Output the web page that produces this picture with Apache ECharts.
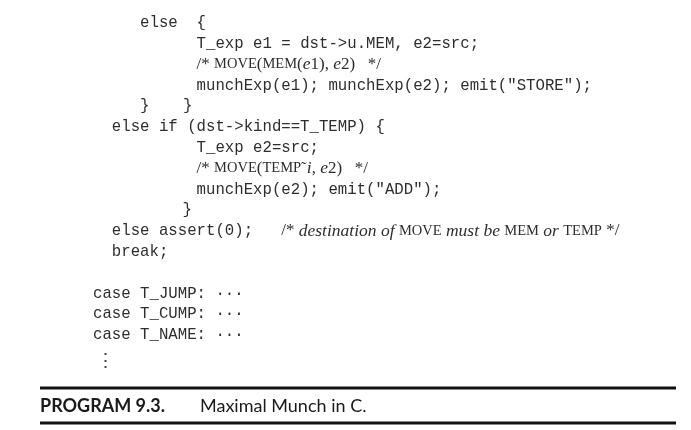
<!DOCTYPE html>
<html lang="en">
<head>
<meta charset="UTF-8">
<title>Program 9.3</title>
<script src="https://cdn.jsdelivr.net/npm/echarts@6/dist/echarts.min.js"></script>
</head>
<body style="margin:0;background:#fff">
<div id="container" style="width:691px;height:430px"></div>
<script type="text/javascript">
    // listing lines (rich text markup: c = code, cm = comment, ci = italic, sc = small caps, r = roman)
    var codeLines = [
        '{c|else  \\{}',
        '{c|T_exp e1 = dst->u.MEM, e2=src;}',
        '{cm|/* }{sc|MOVE}{r|(}{sc|MEM}{r|(}{ci|e}{r|1), }{ci|e}{r|2)   */}',
        '{c|munchExp(e1); munchExp(e2); emit("STORE");}',
        'BRACE2',
        '{c|else if (dst->kind==T_TEMP) \\{}',
        '{c|T_exp e2=src;}',
        '{cm|/* }{sc|MOVE}{r|(}{sc|TEMP}{r|˜}{ci|i}{r|, }{ci|e}{r|2)   */}',
        '{c|munchExp(e2); emit("ADD");}',
        'BRACE1',
        '{c|else assert(0);   }{cm|/* }{ci|destination of }{sc|MOVE}{ci| must be }{sc|MEM}{ci| or }{sc|TEMP}{cm| */}',
        '{c|break;}',
        '',
        '{c|case T_JUMP: ···}',
        '{c|case T_CUMP: ···}',
        '{c|case T_NAME: ···}'
    ];
    var lineIndent = [5, 11, 11, 11, 5, 2, 11, 11, 11, 9.5, 2, 2, 0, 0, 0, 0];
    var captionLabel = 'PROGRAM 9.3.';
    var captionText = 'Maximal Munch in C.';

    var baseX = 93, charW = 9.42, topY = 23, lineH = 20.8;
    var ink = '#2e2e2e';
    var mono = '15.7px "Liberation Mono"';
    var rich = {
        c: {font: mono, fill: ink},
        cm: {font: '17px "Liberation Serif"', fill: ink},
        r: {font: '17px "Liberation Serif"', fill: ink},
        ci: {font: 'italic 17.5px "Liberation Serif"', fill: ink},
        sc: {font: '14.5px "Liberation Serif"', fill: ink}
    };

    var graphic = [];
    codeLines.forEach(function (t, i) {
        if (!t) return;
        var y = topY + i * lineH;
        var x = baseX + lineIndent[i] * charW;
        if (t === 'BRACE2' || t === 'BRACE1') {
            graphic.push({type: 'text', x: x, y: y,
                style: {text: '}', font: mono, fill: ink, verticalAlign: 'middle'}});
            if (t === 'BRACE2') {
                graphic.push({type: 'text', x: 183, y: y,
                    style: {text: '}', font: mono, fill: ink, verticalAlign: 'middle'}});
            }
            return;
        }
        graphic.push({type: 'text', x: x, y: y,
            style: {text: t.replace(/\\\{/g, '{'), rich: rich, verticalAlign: 'middle'}});
    });

    // vertical ellipsis under the cases
    graphic.push({type: 'text', x: 105, y: 362,
        style: {text: '⋮', font: '19px "DejaVu Serif"', fill: '#444', align: 'center', verticalAlign: 'middle'}});

    // caption rules
    graphic.push({type: 'line', shape: {x1: 40, y1: 388, x2: 676, y2: 388}, style: {stroke: '#111', lineWidth: 3}});
    graphic.push({type: 'line', shape: {x1: 40, y1: 423, x2: 676, y2: 423}, style: {stroke: '#111', lineWidth: 3}});
    graphic.push({type: 'text', x: 40, y: 406,
        style: {text: captionLabel, font: 'bold 18px Lato', fill: '#1a1a1a', verticalAlign: 'middle'}});
    graphic.push({type: 'text', x: 200, y: 406,
        style: {text: captionText, font: '18px Lato', fill: '#1a1a1a', verticalAlign: 'middle'}});

    var myChart = echarts.init(document.getElementById('container'));
    myChart.setOption({
        animation: false,
        backgroundColor: '#fff',
        graphic: graphic
    });
</script>
</body>
</html>
